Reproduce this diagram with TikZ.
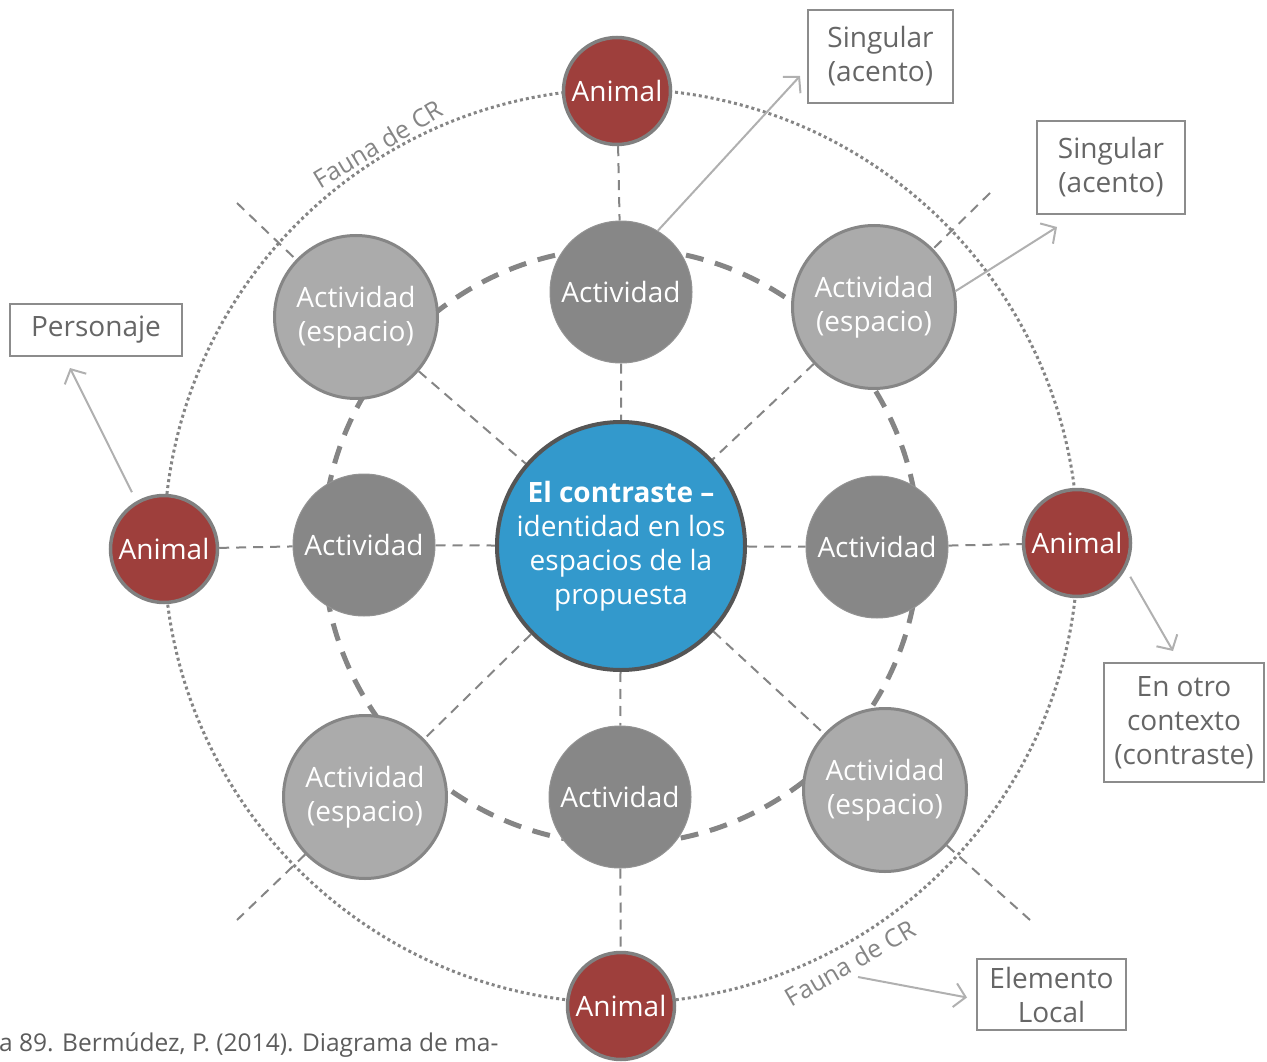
\documentclass[tikz,border=0pt]{standalone}
\usepackage{fontspec}
\setmainfont{Open Sans}
\usetikzlibrary{arrows.meta,calc,backgrounds}
\definecolor{animalred}{HTML}{9E3F3C}
\definecolor{ringgray}{HTML}{808080}
\definecolor{actgray}{HTML}{878787}
\definecolor{espgray}{HTML}{ABABAB}
\definecolor{hubblue}{HTML}{3399CC}
\definecolor{hubring}{HTML}{555555}
\definecolor{linegray}{HTML}{858585}
\definecolor{boxgray}{HTML}{8C8C8C}
\definecolor{textgray}{HTML}{666666}
\definecolor{arrowgray}{HTML}{B0B0B0}
\begin{document}
\begin{tikzpicture}[x=1pt,y=-1pt,
  animal/.style={circle, fill=animalred, draw=ringgray, line width=3.5pt, minimum size=107pt, inner sep=0pt, text=white, font=\fontsize{28}{32}\selectfont},
  act/.style={circle, fill=actgray, draw=actgray!90!white, line width=1pt, minimum size=142pt, inner sep=0pt, text=white, font=\fontsize{28}{32}\selectfont},
  esp/.style={circle, fill=espgray, draw=ringgray!95!white, line width=3pt, minimum size=163pt, inner sep=0pt, text=white, align=center, font=\fontsize{28}{34}\selectfont},
  hub/.style={circle, fill=hubblue, draw=hubring, line width=4pt, minimum size=248pt, inner sep=0pt, text=white, align=center, font=\fontsize{28}{34}\selectfont},
  infobox/.style={draw=boxgray, line width=2pt, text=textgray, align=center, inner sep=0pt, font=\fontsize{28}{34}\selectfont},
  guide/.style={draw=linegray, line width=2pt, dash pattern=on 10pt off 7pt},
  ring/.style={draw=linegray, line width=5pt, dash pattern=on 18pt off 12pt},
  dotring/.style={draw=linegray, line width=3pt, dash pattern=on 3pt off 3pt},
  arr/.style={draw=arrowgray, line width=2pt, -{Straight Barb[length=11pt,width=24pt,line width=2pt]}},
  fauna/.style={text=linegray, font=\fontsize{25}{28}\selectfont, inner sep=0pt}
]
\useasboundingbox (0,0) rectangle (1267,1062);

% central hub
\node[hub] (hub) at (621,546) {\textbf{El contraste –}\\identidad en los\\espacios de la\\propuesta};

% activity circles
\node[act] (aT) at (621,292) {Actividad};
\node[act] (aL) at (364,545) {Actividad};
\node[act] (aR) at (877,547) {Actividad};
\node[act] (aB) at (620,797) {Actividad};

% activity (space) circles
\node[esp] (eTL) at (356,317) {Actividad\\(espacio)};
\node[esp] (eTR) at (874,307) {Actividad\\(espacio)};
\node[esp] (eBL) at (365,797) {Actividad\\(espacio)};
\node[esp] (eBR) at (885,790) {Actividad\\(espacio)};

% animals
\node[animal] (nT) at (617,91) {Animal};
\node[animal] (nL) at (164,549) {Animal};
\node[animal] (nR) at (1077,543) {Animal};
\node[animal] (nB) at (621,1006) {Animal};

% labels on the outer ring
\node[fauna, rotate=31] (f1) at (378,144) {Fauna de CR};
\node[fauna, rotate=30] (f2) at (850,963) {Fauna de CR};

% boxes
\node[infobox, minimum width=145pt, minimum height=93pt] (b1) at (880.5,56.5) {Singular\\(acento)};
\node[infobox, minimum width=148pt, minimum height=93pt] (b2) at (1111,167.5) {Singular\\(acento)};
\node[infobox, minimum width=172pt, minimum height=52pt] (b3) at (96,330) {Personaje};
\node[infobox, minimum width=160pt, minimum height=119pt] (b4) at (1184,722.5) {En otro\\contexto\\(contraste)};
\node[infobox, minimum width=149pt, minimum height=71pt] (b5) at (1051.5,994.5) {Elemento\\Local};

% caption
\node[anchor=base west, inner sep=0pt, text=textgray!90!black, font=\fontsize{24.5}{30}\selectfont] (cap) at (-1,1051) {a 89. Bermúdez, P. (2014). Diagrama de ma-};

% free ends
\coordinate (d1) at (237,203);
\coordinate (d2) at (990,193);
\coordinate (d3) at (237,920);
\coordinate (d4) at (1030,920);
\coordinate (s5) at (858,977);

% arrows
\draw[arr] (aT.59) -- ($(b1.south west)+(-7,-28)$);
\draw[arr] (eTR.11) -- ($(b2.south west)+(21,12)$);
\draw[arr, shorten <=10pt] (nL.120) -- ($(b3.south west)+(61,11)$);
\draw[arr, shorten <=9pt] (nR.-28) -- ($(b4.north west)+(70,-11)$);
\draw[arr] (s5) -- ($(b5.west)+(-9,3)$);

\begin{pgfonlayer}{background}
  \draw[guide] (nT) -- (aT) -- (hub) -- (aB) -- (nB);
  \draw[guide] (nL) -- (aL) -- (hub) -- (aR) -- (nR);
  \draw[guide] (d1) -- (eTL) -- (hub) -- (eBR) -- (d4);
  \draw[guide] (d2) -- (eTR) -- (hub) -- (eBL) -- (d3);
  \draw[dotring] (hub.center) circle[radius=457];
  \draw[ring] (hub.center) circle[radius=298];
\end{pgfonlayer}
\end{tikzpicture}
\end{document}
